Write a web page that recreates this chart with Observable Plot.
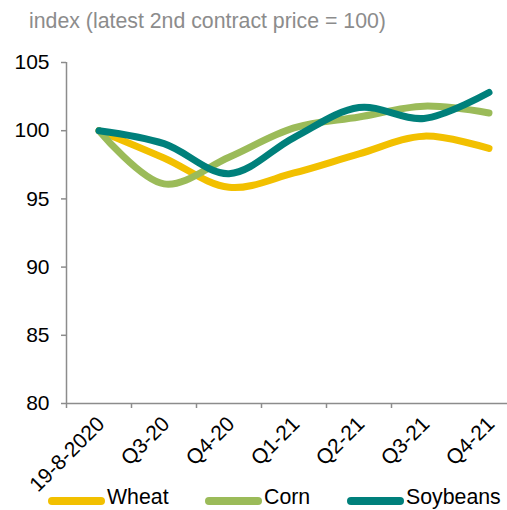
<!DOCTYPE html>
<html><head><meta charset="utf-8">
<script src="https://cdn.jsdelivr.net/npm/d3@7"></script>
<script src="https://cdn.jsdelivr.net/npm/@observablehq/plot@0.6"></script>
<style>
body{margin:0;background:#fff;font-family:"Liberation Sans",Arial,sans-serif;}
#wrap{position:relative;width:507px;height:510px;overflow:hidden;}
#title{position:absolute;left:29px;top:9px;font-size:21.3px;line-height:24px;color:#8c8c8c;white-space:nowrap;}
#chart{position:absolute;left:0;top:40px;}
.leg{position:absolute;top:485px;font-size:21.3px;color:#000;display:flex;align-items:center;white-space:nowrap;line-height:24px;}
.sw{display:inline-block;width:57px;height:8px;border-radius:4px;margin-right:2px;position:relative;top:4px;}
</style></head>
<body><div id="wrap"><div id="title"></div><div id="chart"></div></div>
<script>
const titleText = "index (latest 2nd contract price = 100)";
const categories = ["19-8-2020","Q3-20","Q4-20","Q1-21","Q2-21","Q3-21","Q4-21"];
const seriesNames = ["Wheat","Corn","Soybeans"];
const wheat    = [100, 98.0, 95.85, 96.9, 98.3, 99.6, 98.7];
const corn     = [100, 96.1, 98.05, 100.2, 101.0, 101.8, 101.3];
const soybeans = [100, 99.05, 96.85, 99.5, 101.7, 100.9, 102.8];
const colors = ["#f2c000","#9bbb59","#00807b"];
const yTicks = [80,85,90,95,100,105];
const legendLeft = [48, 205, 347];

const values = [wheat, corn, soybeans];
const rows = seriesNames.flatMap((s, k) => values[k].map((v, i) => ({series: s, i, v})));
const boundaries = categories.slice(0, -1).map((_, i) => i - 0.5);
const centers = categories.map((_, i) => i);

document.getElementById("title").textContent = titleText;

const plot = Plot.plot({
  width: 507, height: 452,
  marginTop: 22, marginBottom: 89, marginLeft: 66, marginRight: 0,
  style: {fontFamily: "Liberation Sans, Arial, sans-serif", fontSize: "21px", color: "#000", overflow: "visible", background: "transparent"},
  x: {type: "linear", domain: [-0.5, categories.length - 0.5], range: [66, 66 + 65 * categories.length]},
  y: {domain: [yTicks[0], yTicks[yTicks.length - 1]]},
  color: {domain: seriesNames, range: colors},
  marks: [
    Plot.ruleY([yTicks[0]], {stroke: "#8c8c8c", strokeWidth: 1.5}),
    Plot.ruleX([-0.5], {y1: yTicks[0], y2: yTicks[yTicks.length - 1], stroke: "#8c8c8c", strokeWidth: 1.5}),
    Plot.axisY({ticks: yTicks, tickSize: 5, tickPadding: 12, stroke: "#8c8c8c", strokeWidth: 1.5, fill: "#000", tickFormat: d => String(d), label: null}),
    Plot.axisX({ticks: boundaries, tickSize: 5, tickFormat: () => "", stroke: "#8c8c8c", strokeWidth: 1.5, label: null}),
    Plot.axisX({ticks: centers, tickSize: 0, tickRotate: -45, tickPadding: 17, dx: 2, tickFormat: i => categories[i], fill: "#000", label: null}),
    Plot.line(rows, {x: "i", y: "v", stroke: "series", z: "series", curve: "catmull-rom", strokeWidth: 7, strokeLinecap: "round", strokeLinejoin: "round"})
  ]
});
document.getElementById("chart").appendChild(plot);

const wrap = document.getElementById("wrap");
seriesNames.forEach((s, k) => {
  const d = document.createElement("div");
  d.className = "leg";
  d.style.left = legendLeft[k] + "px";
  const sw = document.createElement("span");
  sw.className = "sw";
  sw.style.background = colors[k];
  d.appendChild(sw);
  d.appendChild(document.createTextNode(s));
  wrap.appendChild(d);
});
</script>
</body></html>
